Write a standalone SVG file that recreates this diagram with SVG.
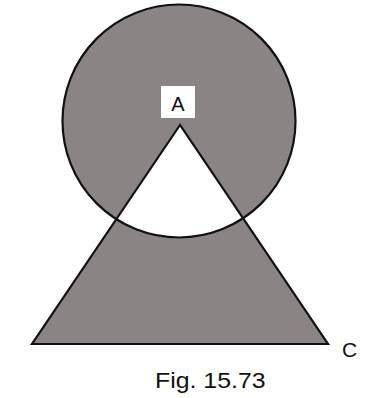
<svg xmlns="http://www.w3.org/2000/svg" width="382" height="398" viewBox="0 0 382 398">
<style>
.shade{fill:#8a8485;fill-rule:evenodd;stroke:none}
.edge{fill:none;stroke:#111;stroke-width:2.2;stroke-linejoin:miter}
.lbl{font-family:"Liberation Sans",Arial,sans-serif;fill:#111}
</style>
<rect width="382" height="398" fill="#fff"/>
<g id="figure">
<path class="shade" d="M179,121 m-116.5,0 a116.5,116.5 0 1,0 233,0 a116.5,116.5 0 1,0 -233,0 Z M180,125 L32,344 L328,344 Z"/>
<circle class="edge" cx="179" cy="121" r="116.5"/>
<polygon class="edge" points="180,125 32,344 328,344"/>
</g>
<g id="label-A">
<rect x="161" y="86" width="34" height="32" fill="#fff"/>
<text class="lbl" x="178" y="111" font-size="20" text-anchor="middle">A</text>
</g>
<g id="label-C">
<text class="lbl" x="342" y="357" font-size="21">C</text>
</g>
<g id="caption">
<text class="lbl" transform="translate(155,388) scale(1.13,1)" x="0" y="0" font-size="22">Fig. 15.73</text>
</g>
</svg>
